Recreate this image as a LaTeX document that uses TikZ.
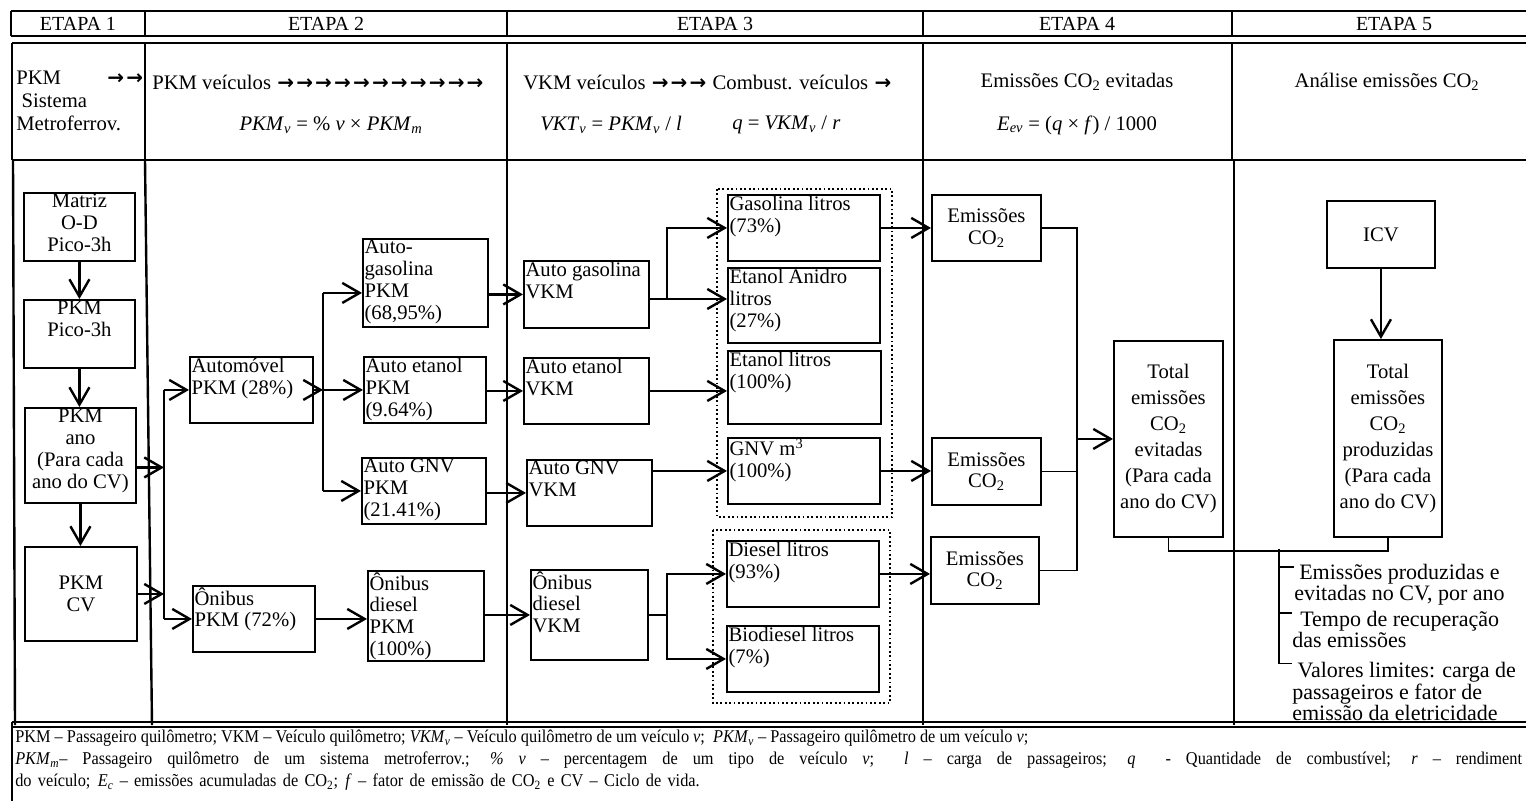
\documentclass[tikz,border=0pt]{standalone}
\usepackage{fontspec}
\setmainfont{Liberation Serif}
\newfontfamily\arrfont{DejaVu Sans}
\usetikzlibrary{arrows.meta}
\newdimen\px \px=0.75pt
% box contents: width, height (px), text
\newcommand{\bt}[3]{\parbox[c][#2\px][t]{\dimexpr#1\px-2.4pt\relax}{\vspace*{1pt}#3}}
\newcommand{\bc}[3]{\parbox[c][#2\px][c]{\dimexpr#1\px-2.4pt\relax}{#3}}
\newcommand{\iv}[2]{\textit{#1}\textsubscript{\textit{#2}}}
\newcommand{\cotwo}{CO\textsubscript{2}}
\newcommand{\ra}{\makebox[14.2pt]{\arrfont\bfseries\fontsize{15}{15}\selectfont →}}

\tikzset{
  bx/.style={draw, line width=1.4pt, inner xsep=1.2pt, inner ysep=0pt, anchor=north west,
    font=\fontsize{15.5}{16.3}\selectfont},
  arr/.style={line width=1.8pt, -{Straight Barb[length=13pt,width=15pt,line width=1.8pt]}},
  ln/.style={line width=1.8pt},
  lt/.style={line width=1.2pt},
  frame/.style={line width=1.8pt},
  grp/.style={dotted, line width=1.3pt},
  hd/.style={font=\fontsize{15}{16}\selectfont, inner sep=0pt},
  tx/.style={font=\fontsize{15.5}{17}\selectfont, inner sep=0pt},
  res/.style={inner sep=0pt, anchor=north west, align=left},
  leg/.style={font=\fontsize{13.5}{16}\selectfont, inner sep=0pt, anchor=west},
}

\begin{document}
\begin{tikzpicture}[x=0.75pt, y=-0.75pt]
  \useasboundingbox (0,0) rectangle (1526,801);

  % table frame
  \draw[frame] (11,11) -- (1530,11) (11,36) -- (1530,36) (11,11) -- (11,36);
  \foreach \x in {145,507,923,1232}
    \draw[frame] (\x,11) -- (\x,36);
  \draw[frame] (12,43) -- (1530,43) (12,160) -- (1530,160) (12,43) -- (12,160);
  \foreach \x in {145,507,923,1232}
    \draw[frame] (\x,43) -- (\x,160);
  \draw[frame] (13,160) -- (15,725);
  \draw[frame] (145,160) -- (152,725);
  \draw[frame] (507,160) -- (507,725);
  \draw[frame] (923,160) -- (923,725);
  \draw[frame] (1234,160) -- (1234,725);
  \draw[frame] (12,722) -- (1530,722);
  \draw[frame] (12,727) -- (1530,727);
  \draw[frame] (12,722) -- (12,801);

  % header
  \node[hd] (e1) at (78,24) {ETAPA 1};
  \node[hd] (e2) at (326,24) {ETAPA 2};
  \node[hd] (e3) at (715,24) {ETAPA 3};
  \node[hd] (e4) at (1077,24) {ETAPA 4};
  \node[hd] (e5) at (1394,24) {ETAPA 5};

  % second row
  \node[tx, anchor=north west, text width=128\px, align=left,
    font=\fontsize{15.5}{17.3}\selectfont] (s1) at (16,71)
    {PKM\hfill\ra\ra\\\hspace*{4pt}Sistema\\Metroferrov.};
  \node[tx, anchor=west] (s2) at (152,82) {PKM veículos \ra\ra\ra\ra\ra\ra\ra\ra\ra\ra\ra};
  \node[tx] (f2) at (331,125) {\iv{PKM}{v} = \% \textit{v} × \iv{PKM}{m}};
  \node[tx, anchor=west] (s3) at (523,82) {VKM veículos \ra\ra\ra\ Combust. veículos \ra};
  \node[tx, anchor=west] (f3a) at (540,125) {\iv{VKT}{v} = \iv{PKM}{v} / \textit{l}};
  \node[tx, anchor=west] (f3b) at (732,125) {\textit{q} = \iv{VKM}{v} / \textit{r}};
  \node[tx] (s4) at (1077,82) {Emissões \cotwo{} evitadas};
  \node[tx] (f4) at (1077,125) {\iv{E}{ev} = (\textit{q} × \textit{f}) / 1000};
  \node[tx] (s5) at (1387,82) {Análise emissões \cotwo};

  % etapa 1
  \node[bx] (mat) at (23,192) {\bt{111}{68}{\centering Matriz\\O-D\\Pico-3h}};
  \node[bx] (pkp) at (23,299) {\bt{111}{68}{\centering PKM\\Pico-3h}};
  \node[bx] (pka) at (24,407) {\bt{111}{95}{\centering PKM\\ano\\(Para cada\\ano do CV)}};
  \node[bx] (pkc) at (24,546) {\bc{112}{94}{\centering PKM\\CV}};

  % etapa 2
  \node[bx] (aut) at (189,356) {\bt{123}{66}{\raggedright Automóvel\\PKM (28\%)}};
  \node[bx] (agp) at (362,238) {\bt{125}{88}{\raggedright Auto-\\gasolina\\PKM\\(68,95\%)}};
  \node[bx] (aep) at (363,356) {\bt{122}{66}{\raggedright Auto etanol\\PKM\\(9.64\%)}};
  \node[bx] (agn) at (361,457) {\bt{124}{66}{\raggedright Auto GNV\\PKM\\(21.41\%)}};
  \node[bx] (onb) at (192,585) {\bt{122}{66}{\raggedright Ônibus\\PKM (72\%)}};
  \node[bx] (odp) at (367,570) {\bt{116}{90}{\raggedright Ônibus\\diesel\\PKM\\(100\%)}};

  % etapa 3
  \node[bx] (avg) at (523,260) {\bt{125}{67}{\raggedright Auto gasolina\\VKM}};
  \node[bx] (aev) at (523,357) {\bt{125}{66}{\raggedright Auto etanol\\VKM}};
  \node[bx] (agv) at (526,459) {\bt{125}{66}{\raggedright Auto GNV\\VKM}};
  \node[bx] (odv) at (530,569) {\bt{117}{90}{\raggedright Ônibus\\diesel\\VKM}};
  \node[bx] (gl) at (727,194) {\bt{152}{66}{\raggedright Gasolina litros\\(73\%)}};
  \node[bx] (ea) at (727,267) {\bt{152}{75}{\raggedright Etanol Anidro\\litros\\(27\%)}};
  \node[bx] (el) at (727,350) {\bt{153}{73}{\raggedright Etanol litros\\(100\%)}};
  \node[bx] (gn) at (727,437) {\bt{152}{66}{\raggedright GNV m\textsuperscript{3}\\(100\%)}};
  \node[bx] (dl) at (726,540) {\bt{152}{66}{\raggedright Diesel litros\\(93\%)}};
  \node[bx] (bl) at (726,625) {\bt{152}{66}{\raggedright Biodiesel litros\\(7\%)}};
  \draw[grp] (717,189) rectangle (892,517);
  \draw[grp] (713,530) rectangle (890,703);

  % etapa 4
  \node[bx] (em1) at (931,194) {\bc{109}{66}{\centering Emissões\\\cotwo}};
  \node[bx] (em2) at (931,437) {\bc{109}{67}{\centering Emissões\\\cotwo}};
  \node[bx] (em3) at (930,536) {\bc{108}{67}{\centering Emissões\\\cotwo}};
  \node[bx, font=\fontsize{15.5}{19.5}\selectfont] (tev) at (1113,340)
    {\bc{109}{196}{\centering Total\\emissões\\\cotwo\\evitadas\\(Para cada\\ano do CV)}};

  % etapa 5
  \node[bx] (icv) at (1326,200) {\bc{108}{67}{\centering ICV}};
  \node[bx, font=\fontsize{15.5}{19.5}\selectfont] (tpr) at (1333,339)
    {\bc{108}{197}{\centering Total\\emissões\\\cotwo\\produzidas\\(Para cada\\ano do CV)}};
  \node[res, align=center, font=\fontsize{16.5}{14.3}\selectfont] (r1)
    at (1294,564) {Emissões produzidas e\\evitadas no CV, por ano};
  \node[res, font=\fontsize{16.5}{13.5}\selectfont] (r2)
    at (1292,611) {\hspace*{6pt}Tempo de recuperação\\das emissões};
  \node[res, font=\fontsize{16.5}{11.3}\selectfont] (r3)
    at (1292,662) {\hspace*{4pt}Valores limites: carga de\\passageiros e fator de\\emissão da eletricidade};

  % legend
  \node[leg] (leg1) at (15,738) {\scalebox{0.907}[1]{PKM – Passageiro quilômetro; VKM – Veículo quilômetro; \iv{VKM}{v} – Veículo quilômetro de um veículo \textit{v};\ \ \iv{PKM}{v} – Passageiro quilômetro de um veículo \textit{v};}};
  \node[leg] (leg2) at (15,760) {\scalebox{0.907}[1]{\makebox[1246pt][s]{\iv{PKM}{m}– Passageiro quilômetro de um sistema metroferrov.; \textit{\% v} – percentagem de um tipo de veículo \textit{v};\ \ \textit{l} – carga de passageiros; \textit{q}\ \ - Quantidade de combustível; \textit{r} – rendiment}}};
  \node[leg] (leg3) at (15,782) {\scalebox{0.907}[1]{\makebox[566pt][s]{do veículo; \iv{E}{c} – emissões acumuladas de \cotwo; \textit{f} – fator de emissão de \cotwo{} e CV – Ciclo de vida.}}};

  % etapa 1 arrows
  \draw[arr] (mat.south) -- (mat.south |- pkp.north);
  \draw[arr] (pkp.south) -- (pkp.south |- pka.north);
  \draw[arr] (pka.south) -- (pka.south |- pkc.north);
  \coordinate (bar) at (164,0);
  \coordinate (pa) at ([yshift=-9pt]pka.east);
  \draw[arr] (pa) -- (pa -| bar);
  \draw[arr] (pkc.east) -- (pkc.east -| bar);
  \draw[ln] (bar |- aut.west) -- (bar |- onb.west);
  \draw[arr] (bar |- aut.west) -- (aut.west);
  \draw[arr] (bar |- onb.west) -- (onb.west);

  % etapa 2 arrows
  \coordinate (sp) at (323,0);
  \coordinate (ag) at ([yshift=-7.5pt]agp.west);
  \draw[arr] (aut.east) -- (aut.east -| sp);
  \draw[ln] (ag -| sp) -- (agn.west -| sp);
  \draw[arr] (ag -| sp) -- (ag);
  \draw[arr] (aep.west -| sp) -- (aep.west);
  \draw[arr] (agn.west -| sp) -- (agn.west);
  \draw[arr] (onb.east) -- (onb.east -| odp.west);
  \draw[arr] (avg.west -| agp.east) -- (avg.west);
  \draw[arr] (aev.west -| aep.east) -- (aev.west);
  \draw[arr] (agv.west -| agn.east) -- (agv.west);
  \draw[arr] (odv.west -| odp.east) -- (odv.west);

  % etapa 3 arrows
  \coordinate (ge) at ([yshift=-3.4pt]avg.east);
  \draw[arr] (ge) -- ++(17,0) |- (gl.west);
  \draw[arr] (ge) -- (ge -| ea.west);
  \draw[arr] (aev.east) -- (aev.east -| el.west);
  \draw[arr] (gn.west -| agv.east) -- (gn.west);
  \draw[arr] (odv.east) -- ++(18,0) |- (dl.west);
  \draw[arr] (odv.east) -- ++(18,0) |- (bl.west);
  \draw[arr] (gl.east) -- (gl.east -| em1.west);
  \draw[arr] (gn.east) -- (gn.east -| em2.west);
  \draw[arr] (dl.east) -- (dl.east -| em3.west);

  % etapa 4 and 5
  \coordinate (jn) at (1077,0);
  \draw[lt] (em1.east) -| (jn |- em3.east) -- (em3.east);
  \draw[lt] (em2.east) -- (em2.east -| jn);
  \draw[arr] (jn |- tev.west) -- (tev.west);
  \draw[arr] (icv.south) -- (icv.south |- tpr.north);
  \draw[lt] (tev.south) -- ++(0,13) -| (tpr.south);
  \coordinate (br) at (1279,549);
  \draw[lt] (br) |- ([yshift=-2.3pt]r1.north west);
  \draw[lt] (br) |- ([yshift=-1.5pt]r2.north west);
  \draw[lt] (br) |- ([yshift=-1pt]r3.north west);
\end{tikzpicture}
\end{document}
